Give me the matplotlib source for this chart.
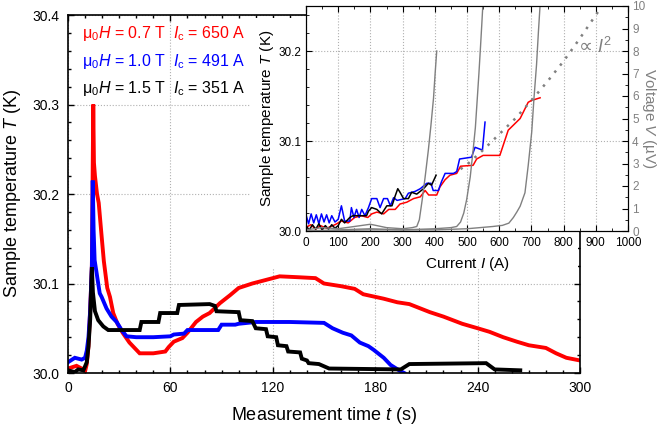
import matplotlib
matplotlib.use('Agg')
import matplotlib.pyplot as plt
from matplotlib.patches import Rectangle
from matplotlib.ticker import MultipleLocator, FormatStrFormatter

plt.rcParams['font.family'] = ['Liberation Sans', 'DejaVu Sans']
plt.rcParams['mathtext.fontset'] = 'custom'
plt.rcParams['mathtext.rm'] = 'Liberation Sans'
plt.rcParams['mathtext.it'] = 'Liberation Sans:italic'

RED, BLUE, BLACK, GRAY = '#ff0000', '#0000ff', '#000000', '#808080'

# --- main panel: temperature vs time ---
t_07 = [0, 5, 8, 10, 11, 12, 13, 14, 14.8, 15.2, 15.8, 17, 18, 19.6, 21, 23, 24.6, 26.5,
        29, 32, 36, 40, 42, 50, 57, 59, 62, 67, 70, 75, 79, 83, 89, 95, 100, 108, 116,
        124, 135, 145, 150, 160, 168, 173, 185, 193, 200, 212, 220, 231, 240, 247, 255,
        263, 270, 280, 286, 292, 300]
T_07 = [30.005, 30.008, 30.005, 30.002, 30.01, 30.03, 30.07, 30.12, 30.30, 30.235, 30.22,
        30.20, 30.19, 30.155, 30.125, 30.095, 30.085, 30.067, 30.055, 30.045, 30.034,
        30.026, 30.022, 30.022, 30.024, 30.029, 30.035, 30.039, 30.045, 30.057, 30.063,
        30.067, 30.078, 30.087, 30.095, 30.100, 30.104, 30.108, 30.107, 30.106, 30.100,
        30.097, 30.094, 30.088, 30.083, 30.079, 30.077, 30.068, 30.063, 30.055, 30.050,
        30.046, 30.040, 30.035, 30.031, 30.028, 30.022, 30.017, 30.014]

t_10 = [0, 4, 8, 10, 11, 12, 13, 14, 14.5, 15, 15.6, 16.5, 17.7, 18.6, 19.7, 22.6, 25.5,
        28.5, 31.4, 34.3, 40, 50, 60, 62, 68, 70, 88, 90, 98, 100, 110, 130, 150, 155,
        161, 166, 171, 176, 179, 185, 189, 194, 197]
T_10 = [30.012, 30.017, 30.015, 30.017, 30.025, 30.04, 30.07, 30.12, 30.215, 30.16,
        30.126, 30.115, 30.10, 30.089, 30.085, 30.072, 30.063, 30.057, 30.048, 30.041,
        30.040, 30.040, 30.041, 30.043, 30.044, 30.048, 30.048, 30.054, 30.054, 30.055,
        30.057, 30.057, 30.056, 30.050, 30.045, 30.042, 30.034, 30.030, 30.026, 30.017,
        30.009, 30.003, 30.0]

t_15 = [0, 4, 6, 9, 11, 12, 13, 14, 14.6, 15.8, 17.7, 20.7, 23.6, 42, 43, 53, 54, 64, 65,
        83, 86, 87, 100, 101, 108, 110, 116, 117, 122, 123, 128, 129, 136, 137, 140, 141,
        147, 153, 195, 200, 245, 250, 265]
T_15 = [30.003, 30.001, 30.004, 30.003, 30.012, 30.03, 30.06, 30.118, 30.09, 30.069,
        30.059, 30.052, 30.048, 30.048, 30.057, 30.057, 30.067, 30.067, 30.076, 30.077,
        30.075, 30.069, 30.068, 30.059, 30.058, 30.050, 30.049, 30.041, 30.040, 30.031,
        30.030, 30.024, 30.023, 30.016, 30.014, 30.011, 30.010, 30.005, 30.004, 30.010,
        30.011, 30.004, 30.003]

fields = ['0.7', '1.0', '1.5']
crit_currents = ['650', '491', '351']
colors = [RED, BLUE, BLACK]

# --- inset: temperature and voltage vs current ---
I_07 = [0, 15, 30, 45, 64, 90, 110, 131, 151, 172, 192, 204, 220, 241, 257, 277, 292, 313,
        334, 355, 370, 381, 406, 416, 432, 447, 468, 480, 519, 530, 550, 602, 628, 665,
        690, 700, 727]
TI_07 = [30.004, 30.007, 30.002, 30.006, 30.003, 30.007, 30.011, 30.009, 30.015, 30.017,
         30.015, 30.019, 30.021, 30.019, 30.024, 30.024, 30.030, 30.032, 30.036, 30.038,
         30.045, 30.040, 30.040, 30.049, 30.057, 30.062, 30.064, 30.072, 30.073, 30.080,
         30.084, 30.084, 30.112, 30.125, 30.143, 30.145, 30.148]

I_10 = [0, 8, 16, 24, 32, 40, 48, 56, 64, 72, 80, 90, 100, 110, 120, 136, 141, 149, 157,
        165, 173, 183, 194, 204, 220, 230, 241, 253, 262, 272, 283, 308, 318, 339, 355,
        375, 388, 395, 411, 421, 432, 458, 468, 477, 514, 525, 540, 548, 556]
TI_10 = [30.018, 30.008, 30.019, 30.009, 30.018, 30.008, 30.019, 30.010, 30.018, 30.009,
         30.017, 30.010, 30.013, 30.028, 30.011, 30.011, 30.026, 30.015, 30.024, 30.015,
         30.024, 30.017, 30.026, 30.036, 30.036, 30.026, 30.036, 30.036, 30.028, 30.037,
         30.034, 30.036, 30.042, 30.044, 30.047, 30.053, 30.053, 30.045, 30.045, 30.055,
         30.064, 30.064, 30.066, 30.080, 30.082, 30.093, 30.091, 30.090, 30.121]

I_15 = [0, 10, 20, 30, 40, 50, 60, 70, 80, 90, 100, 110, 120, 136, 146, 188, 194, 204,
        220, 235, 251, 267, 277, 285, 292, 303, 318, 328, 344, 365, 380, 390, 395, 404]
TI_15 = [30.006, 30.001, 30.007, 30.002, 30.008, 30.001, 30.006, 30.002, 30.007, 30.003,
         30.006, 30.013, 30.009, 30.015, 30.017, 30.017, 30.022, 30.026, 30.024, 30.019,
         30.028, 30.028, 30.039, 30.047, 30.043, 30.036, 30.036, 30.043, 30.041, 30.047,
         30.053, 30.051, 30.055, 30.062]

IV_15 = [0, 50, 100, 150, 200, 250, 300, 330, 344, 352, 361, 370, 380, 388, 396, 401, 406]
V_15 = [0.05, 0.15, 0.1, 0.2, 0.3, 0.15, 0.1, 0.15, 0.2, 0.5, 1.4, 2.4, 3.6, 4.7, 5.9, 7.0, 8.0]
IV_10 = [0, 100, 200, 300, 400, 450, 468, 480, 490, 499, 510, 519, 526, 532, 537, 542, 546, 551]
V_10 = [0.0, 0.05, 0.1, 0.05, 0.1, 0.15, 0.2, 0.4, 0.8, 1.4, 2.4, 3.6, 4.6, 5.9, 7.0, 8.2, 9.2, 10.5]
IV_07 = [0, 200, 400, 500, 580, 610, 630, 644, 655, 665, 680, 690, 701, 708, 716, 722, 729]
V_07 = [0.0, 0.05, 0.05, 0.1, 0.2, 0.25, 0.35, 0.6, 0.85, 1.1, 1.7, 2.9, 4.4, 5.9, 7.4, 8.9, 10.5]

I_sq = [480, 500, 550, 600, 650, 700, 750, 800, 850, 900, 915]
V_sq = [2.75, 2.95, 3.6, 4.3, 5.0, 5.8, 6.65, 7.55, 8.55, 9.6, 9.9]

W, H = 657, 430
fig = plt.figure(figsize=(W / 100, H / 100), dpi=100)

ax = fig.add_axes([68 / W, 1 - 373 / H, 512 / W, 358 / H])
ax.set_zorder(0)
for tt, TT, c in [(t_07, T_07, RED), (t_10, T_10, BLUE), (t_15, T_15, BLACK)]:
    ax.plot(tt, TT, color=c, lw=2.8, solid_joinstyle='miter')
ax.set_xlim(0, 300)
ax.set_ylim(30.0, 30.4)
ax.xaxis.set_major_locator(MultipleLocator(60))
ax.xaxis.set_minor_locator(MultipleLocator(10))
ax.yaxis.set_major_locator(MultipleLocator(0.1))
ax.yaxis.set_minor_locator(MultipleLocator(0.02))
ax.yaxis.set_major_formatter(FormatStrFormatter('%.1f'))
ax.tick_params(which='both', direction='in', top=True, right=True, labelsize=10, pad=6)
ax.tick_params(which='major', length=4.5, width=1)
ax.tick_params(which='minor', length=2.5, width=1)
ax.grid(True, which='major', color='#b0b0b0', ls=':', lw=0.8)
for s in ax.spines.values():
    s.set_linewidth(1.2)
ax.set_xlabel('Measurement time $t$ (s)', fontsize=13, labelpad=7)
ax.set_ylabel('Sample temperature $T$ (K)', fontsize=13, labelpad=7)

for k, (fld, ic, c) in enumerate(zip(fields, crit_currents, colors)):
    y = [0.936, 0.858, 0.782][k]
    ax.text(0.027, y, r'$\mathrm{\mu}_0H$ = ' + fld + ' T', color=c, fontsize=11.5,
            transform=ax.transAxes, va='baseline')
    ax.text(0.205, y, r'$I_\mathrm{c}$ = ' + ic + ' A', color=c, fontsize=11.5,
            transform=ax.transAxes, va='baseline')

# white backing behind the inset and its labels
fig.add_artist(Rectangle((250 / W, 1 - 268 / H), 328 / W, 250 / H, transform=fig.transFigure,
                         facecolor='white', edgecolor='none', zorder=2))

ax_in = fig.add_axes([306 / W, 1 - 231 / H, 322 / W, 225 / H])
ax_in.set_zorder(3)
ax_v = ax_in.twinx()
ax_v.set_zorder(4)
ax_v.patch.set_visible(False)

for ii, TT, c in [(I_07, TI_07, RED), (I_10, TI_10, BLUE), (I_15, TI_15, BLACK)]:
    ax_in.plot(ii, TT, color=c, lw=1.1)
ax_in.set_xlim(0, 1000)
ax_in.set_ylim(30.0, 30.25)
ax_in.xaxis.set_major_locator(MultipleLocator(100))
ax_in.xaxis.set_minor_locator(MultipleLocator(50))
ax_in.yaxis.set_major_locator(MultipleLocator(0.1))
ax_in.yaxis.set_minor_locator(MultipleLocator(0.02))
ax_in.yaxis.set_major_formatter(FormatStrFormatter('%.1f'))
ax_in.tick_params(which='both', direction='in', top=True, labelsize=8.5, pad=3)
ax_in.tick_params(axis='x', pad=4.5)
ax_in.tick_params(which='major', length=4)
ax_in.tick_params(which='minor', length=2.5)
ax_in.grid(True, which='major', color='#b0b0b0', ls=':', lw=0.8)
ax_in.set_xlabel('Current $I$ (A)', fontsize=11, labelpad=4)
ax_in.set_ylabel('Sample temperature $T$ (K)', fontsize=11, labelpad=2)

for ii, vv in [(IV_15, V_15), (IV_10, V_10), (IV_07, V_07)]:
    ax_v.plot(ii, vv, color=GRAY, lw=1.0)
ax_v.plot(I_sq, V_sq, color=GRAY, lw=1.8, ls=(0, (1, 2.6)))
ax_v.set_ylim(0, 10)
ax_v.yaxis.set_major_locator(MultipleLocator(1))
ax_v.yaxis.set_minor_locator(MultipleLocator(0.5))
ax_v.tick_params(which='both', direction='in', labelsize=8.5, labelcolor=GRAY, pad=3)
ax_v.tick_params(which='major', length=4)
ax_v.tick_params(which='minor', length=2.5)
ax_v.set_ylabel('Voltage $V$ (µV)', fontsize=11, color=GRAY, rotation=270, labelpad=9)
ax_v.text(848, 8.2, '∝', color=GRAY, fontsize=14, va='center', family='DejaVu Sans')
ax_v.text(905, 8.2, '$I^2$', color=GRAY, fontsize=13, va='center')

fig.savefig('out.png', dpi=100)
